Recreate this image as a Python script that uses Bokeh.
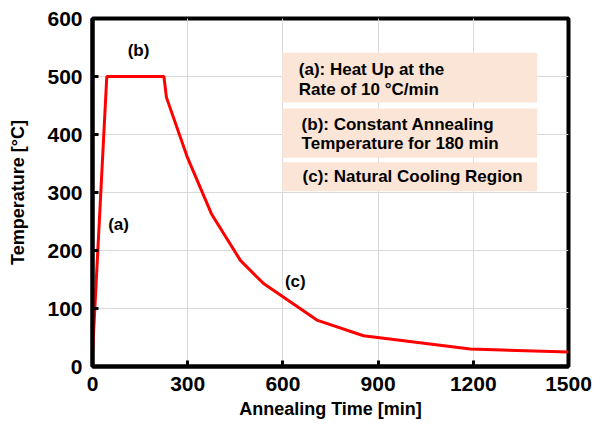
from bokeh.plotting import figure
from bokeh.models import FixedTicker, Label, BoxAnnotation, Range1d
from bokeh.embed import file_html
from bokeh.resources import INLINE

# Data
time_min = [0, 45, 225, 233, 298, 375, 466, 539, 707, 854, 1190, 1500]
temp_c = [22, 500, 500, 464, 362, 263, 183, 143, 80, 53, 30, 25]
x_ticks = [0, 300, 600, 900, 1200, 1500]
y_ticks = [0, 100, 200, 300, 400, 500, 600]
notes = [
    ["(a): Heat Up at the", "Rate of 10 \u00b0C/min"],
    ["(b): Constant Annealing", "Temperature for 180 min"],
    ["(c): Natural Cooling Region"],
]
region_tags = ["(a)", "(b)", "(c)"]

FONT = "Liberation Sans"

p = figure(width=593, height=426, output_backend="svg", toolbar_location=None,
           x_range=Range1d(0, 1500), y_range=Range1d(0, 600),
           min_border_left=92, min_border_right=25, min_border_top=18, min_border_bottom=60)

p.outline_line_color = "black"
p.outline_line_width = 4

for ax in (p.xaxis[0], p.yaxis[0]):
    ax.axis_line_width = 4
    ax.axis_line_color = "black"
    ax.major_tick_in = 6
    ax.major_tick_out = 0
    ax.major_tick_line_width = 3
    ax.minor_tick_line_color = None
    ax.major_label_text_font = FONT
    ax.major_label_text_font_style = "bold"
    ax.major_label_text_font_size = "21px"
    ax.major_label_text_color = "black"
    ax.axis_label_text_font = FONT
    ax.axis_label_text_font_style = "bold"
    ax.axis_label_text_font_size = "18px"
    ax.axis_label_text_color = "black"

p.xaxis.ticker = FixedTicker(ticks=x_ticks)
p.yaxis.ticker = FixedTicker(ticks=y_ticks)
p.xaxis.axis_label = "Annealing Time [min]"
p.yaxis.axis_label = "Temperature [\u00b0C]"
p.xaxis.major_label_standoff = 10
p.yaxis.major_label_standoff = 10
p.xaxis.axis_label_standoff = 5
p.yaxis.axis_label_standoff = 16

p.xgrid.ticker = FixedTicker(ticks=x_ticks)
p.ygrid.ticker = FixedTicker(ticks=y_ticks)
p.grid.grid_line_color = "#d9d9d9"
p.grid.grid_line_width = 1

# Note boxes
boxes = [(541, 455), (445, 360), (352, 302)]
for (top, bottom) in boxes:
    p.add_layout(BoxAnnotation(left=598, right=1401, top=top, bottom=bottom,
                               fill_color="#fbe5d6", fill_alpha=1.0, line_color=None, level="underlay"))

line_pos = [[(650, 512), (650, 477)], [(659, 418), (659, 385)], [(662, 327)]]
for lines, poss in zip(notes, line_pos):
    for txt, (lx, ly) in zip(lines, poss):
        p.add_layout(Label(x=lx, y=ly, text=txt, text_font=FONT, text_font_style="bold",
                           text_font_size="17px", text_baseline="middle", text_align="left",
                           text_color="black"))

tag_pos = [(82, 245), (145, 545), (639, 147)]
for t, (lx, ly) in zip(region_tags, tag_pos):
    p.add_layout(Label(x=lx, y=ly, text=t, text_font=FONT, text_font_style="bold",
                       text_font_size="17px", text_baseline="middle", text_align="center",
                       text_color="black"))

p.line(time_min, temp_c, line_color="#ff0000", line_width=3)

open("out.html", "w").write(file_html(p, INLINE))
